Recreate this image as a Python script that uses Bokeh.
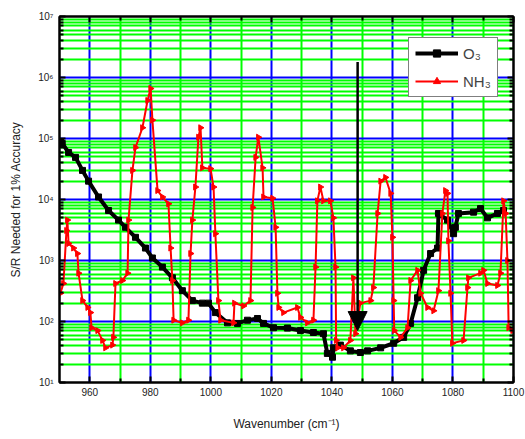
import numpy as np
from bokeh.plotting import figure
from bokeh.models import (FixedTicker, LinearAxis, LogAxis, CustomJSTickFormatter,
                          Arrow, NormalHead)
from bokeh.embed import file_html
from bokeh.resources import INLINE

# ---------------- data ----------------
o3_wn = [950.3, 950.9, 953.0, 955.3, 957.6, 959.6, 962.9, 966.2, 969.5, 971.8,
         975.1, 978.4, 980.7, 984.0, 987.3, 990.6, 993.9, 997.2, 999.2, 1001.5,
         1005.5, 1008.8, 1012.1, 1015.4, 1017.4, 1020.7, 1025.3, 1029.6, 1033.9, 1037.2,
         1038.5, 1040.2, 1040.5, 1042.8, 1046.1, 1049.4, 1051.8, 1056.1, 1060.4, 1063.7,
         1066.0, 1068.3, 1070.3, 1072.6, 1074.9, 1075.2, 1078.2, 1080.2, 1080.8, 1081.8,
         1086.8, 1089.1, 1091.4, 1094.7, 1096.7]
o3_snr = [89000, 83000, 59000, 49000, 30000, 20000, 11000, 6600, 4600, 3500,
          2400, 1600, 1100, 780, 520, 320, 220, 200, 200, 140,
          95, 93, 105, 112, 93, 79, 78, 71, 66, 63,
          30, 26, 37, 41, 33, 31, 33, 37, 44, 55,
          93, 245, 690, 1300, 1600, 5900, 4600, 2750, 3500, 5900,
          6200, 7100, 5000, 5900, 6600]

nh3_wn = [950.3, 951.3, 952.3, 952.6, 953.0, 954.6, 955.9, 956.3, 957.6, 959.3,
          960.2, 960.6, 962.6, 964.2, 965.2, 967.5, 967.8, 968.5, 970.8, 972.5,
          972.8, 974.1, 975.1, 977.4, 979.1, 980.1, 980.7, 982.4, 984.0, 986.0,
          986.7, 987.3, 987.7, 990.6, 992.6, 993.3, 993.9, 994.9, 995.9, 996.6,
          997.2, 999.9, 1000.9, 1001.5, 1002.5, 1003.2, 1007.5, 1007.8, 1010.8, 1013.1,
          1013.8, 1014.8, 1015.7, 1017.1, 1017.4, 1020.4, 1021.4, 1022.0, 1022.4, 1024.0,
          1028.6, 1029.6, 1031.9, 1033.9, 1034.6, 1035.2, 1036.2, 1037.2, 1039.5, 1040.5,
          1041.2, 1041.4, 1041.9, 1043.8, 1046.1, 1047.1, 1047.8, 1049.4, 1052.8, 1053.7,
          1055.1, 1056.1, 1057.7, 1059.4, 1060.0, 1060.4, 1060.6, 1062.7, 1065.0, 1066.0,
          1068.3, 1069.3, 1071.6, 1073.6, 1075.2, 1076.5, 1077.5, 1078.2, 1078.5, 1079.2,
          1079.8, 1083.5, 1084.8, 1085.1, 1089.1, 1090.1, 1091.4, 1094.7, 1095.7, 1096.7,
          1097.4, 1098.0, 1098.4, 1099.7]
nh3_snr = [290, 420, 3100, 4600, 1900, 1600, 1300, 620, 220, 170,
           140, 79, 71, 49, 37, 41, 55, 420, 470, 620,
           4600, 30000, 71000, 150000, 420000, 660000, 200000, 14000, 11000, 8500,
           1600, 470, 105, 95, 105, 1300, 4600, 16000, 105000, 150000,
           33000, 32000, 16000, 2750, 220, 105, 95, 200, 180, 220,
           7400, 49000, 105000, 33000, 11000, 10500, 3500, 290, 170, 140,
           170, 117, 95, 105, 780, 9500, 16000, 9500, 9500, 5000,
           780, 49, 37, 37, 49, 520, 63, 200, 220, 360,
           5900, 20000, 23000, 12600, 2400, 220, 71, 55, 79, 470,
           690, 290, 170, 150, 320, 5900, 14000, 12600, 2100, 290,
           44, 49, 360, 520, 620, 690, 420, 390, 620, 9500,
           5900, 1000, 79, 71]

arrow_wn = 1048.5
arrow_top = 1.8e6
arrow_tip = 71

x_major = [960, 980, 1000, 1020, 1040, 1060, 1080, 1100]
x_minor = [970, 990, 1010, 1030, 1050, 1070, 1090]
y_major = [10.0 ** k for k in range(1, 8)]
y_minor = [m * 10.0 ** k for k in range(1, 7) for m in range(2, 10)]

FONT = "Liberation Sans"

p = figure(width=525, height=439, x_range=(950, 1100), y_range=(10, 1e7),
           y_axis_type="log", output_backend="svg", toolbar_location=None,
           min_border_left=59, min_border_right=12, min_border_top=16,
           min_border_bottom=57)
p.background_fill_color = "white"
p.border_fill_color = "white"
p.outline_line_color = "black"
p.outline_line_width = 2

xt = FixedTicker(ticks=x_major, minor_ticks=x_minor)
yt = FixedTicker(ticks=y_major, minor_ticks=y_minor)

sup = CustomJSTickFormatter(code="""
const s = ['\u2070','\u00b9','\u00b2','\u00b3','\u2074','\u2075','\u2076','\u2077','\u2078','\u2079'];
return '10' + s[Math.round(Math.log10(tick))];
""")
blank = CustomJSTickFormatter(code="return '';")

# grids
for g, t in ((p.xgrid, xt), (p.ygrid, yt)):
    g.ticker = t
    g.grid_line_color = "#0000ff"
    g.grid_line_width = 2
    g.minor_grid_line_color = "#00ff00"
    g.minor_grid_line_width = 2

def style_axis(ax, labels=True):
    ax.axis_line_color = "black"
    ax.axis_line_width = 2
    ax.major_tick_in = 6
    ax.major_tick_out = 0
    ax.minor_tick_in = 4
    ax.minor_tick_out = 0
    ax.major_tick_line_width = 2
    ax.minor_tick_line_width = 2
    ax.major_tick_line_color = "black"
    ax.minor_tick_line_color = "black"
    if labels:
        ax.major_label_text_font = FONT
        ax.major_label_text_font_size = "10px"
        ax.major_label_text_color = "#222222"
        ax.axis_label_text_font = FONT
        ax.axis_label_text_font_size = "12px"
        ax.axis_label_text_font_style = "normal"
        ax.axis_label_text_color = "#222222"
    else:
        ax.formatter = blank
        ax.major_label_standoff = 0

p.xaxis.ticker = xt
p.yaxis.ticker = yt
p.yaxis.formatter = sup
p.xaxis.axis_label = "Wavenumber (cm\u207b\u00b9)"
p.yaxis.axis_label = "S/R Needed for 1% Accuracy"
p.xaxis.major_label_standoff = 5
p.yaxis.major_label_standoff = 6
p.xaxis.axis_label_standoff = 18
p.yaxis.axis_label_standoff = 12
style_axis(p.xaxis[0])
style_axis(p.yaxis[0])

top = LinearAxis(ticker=xt)
style_axis(top, labels=False)
p.add_layout(top, "above")
right = LogAxis(ticker=yt)
style_axis(right, labels=False)
p.add_layout(right, "right")

# series
p.line(o3_wn, o3_snr, line_color="black", line_width=4, legend_label="O\u2083")
p.scatter(o3_wn, o3_snr, marker="square", size=6, fill_color="black",
          line_color="black", legend_label="O\u2083")
p.line(nh3_wn, nh3_snr, line_color="red", line_width=2, legend_label="NH\u2083")
p.scatter(nh3_wn, nh3_snr, marker="triangle", size=6, angle=-np.pi / 2,
          fill_color="red", line_color="red", legend_label="NH\u2083")

p.add_layout(Arrow(end=NormalHead(size=19, fill_color="black", line_color="black"),
                   x_start=arrow_wn, y_start=arrow_top, x_end=arrow_wn, y_end=arrow_tip,
                   line_color="black", line_width=2.5))

lg = p.legend[0]
lg.location = (349, 285)
lg.border_line_color = "black"
lg.border_line_width = 1
lg.background_fill_color = "white"
lg.background_fill_alpha = 1
lg.padding = 6
lg.spacing = 10
lg.glyph_width = 43
lg.glyph_height = 18
lg.label_standoff = 5
lg.label_text_font = FONT
lg.label_text_font_size = "15px"
lg.margin = 0

open("out.html", "w").write(file_html(p, INLINE))
